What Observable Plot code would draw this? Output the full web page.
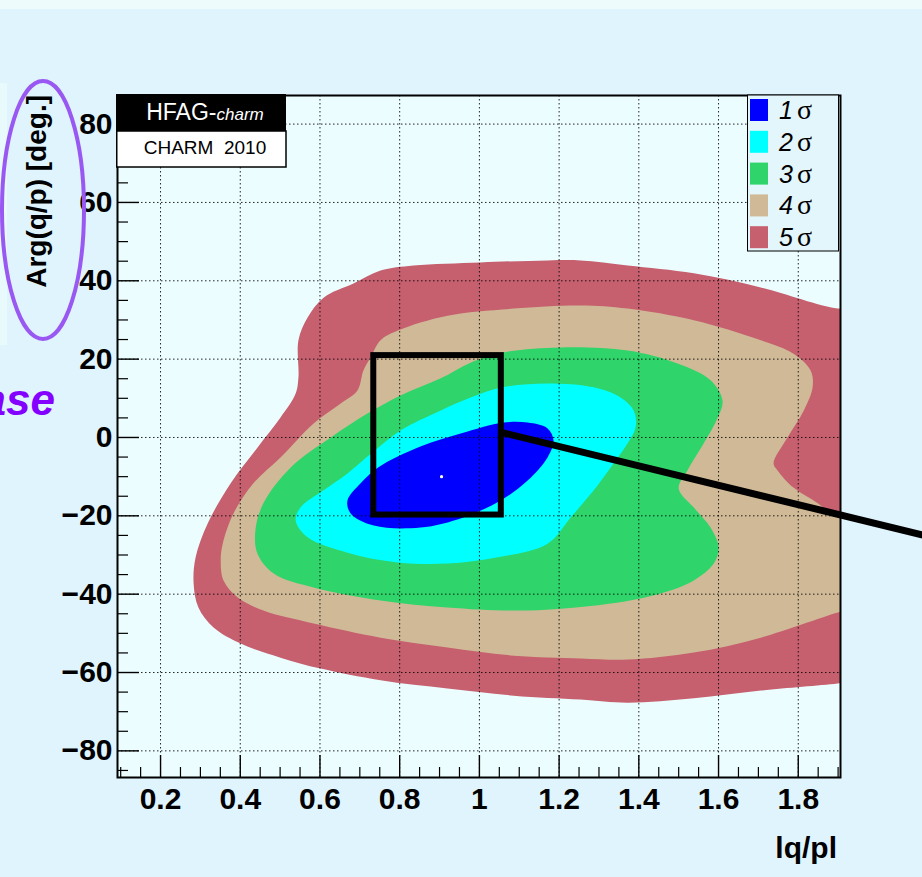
<!DOCTYPE html>
<html>
<head>
<meta charset="utf-8">
<script src="https://cdn.jsdelivr.net/npm/d3@7"></script>
<script src="https://cdn.jsdelivr.net/npm/@observablehq/plot@0.6"></script>
<style>
  html, body { margin: 0; padding: 0; background: #dff4fd; }
  #chart { width: 922px; height: 877px; position: relative; overflow: hidden; }
  #chart svg { display: block; }
</style>
</head>
<body>
<div id="chart"></div>
<script>
// Confidence levels and their fill colours
const levels = ["1", "2", "3", "4", "5"];
const levelColors = ["#0000ff", "#00ffff", "#2fd46a", "#d0b996", "#c65f6e"];

// Axis ticks
const xTickValues = [0.2, 0.4, 0.6, 0.8, 1, 1.2, 1.4, 1.6, 1.8];
const yTickValues = [-80, -60, -40, -20, 0, 20, 40, 60, 80];

// Contour outlines: [|q/p|, Arg(q/p) in degrees]
const contour5 = [
  [1.254, 45.2], [1.171, 45.2], [1.003, 44.7], [0.835, 43.9], [0.752, 42.6], [0.684, 39.3],
  [0.609, 35.7], [0.569, 30.6], [0.546, 24.8], [0.546, 15.3], [0.539, 11.2], [0.501, 5.1],
  [0.443, -2.6], [0.376, -11.7], [0.318, -22.0], [0.288, -30.6], [0.283, -37.3], [0.295, -43.4],
  [0.333, -48.5], [0.401, -52.6], [0.501, -56.2], [0.602, -59.0], [0.752, -62.0], [0.920, -64.1],
  [1.086, -65.9], [1.254, -66.9], [1.372, -67.7], [1.538, -66.6], [1.706, -64.6], [1.899, -62.8],
  [1.96, -62.0], [1.96, 33.0], [1.899, 32.9], [1.706, 38.3], [1.538, 41.9], [1.372, 43.9]
];
const contour4 = [
  [1.254, 33.7], [1.086, 32.9], [0.920, 31.1], [0.795, 27.3], [0.752, 24.8], [0.727, 20.4],
  [0.709, 17.1], [0.694, 12.0], [0.652, 8.7], [0.584, 3.6], [0.501, -5.1], [0.433, -11.7],
  [0.383, -19.4], [0.356, -27.1], [0.351, -31.4], [0.358, -36.5], [0.393, -40.8], [0.458, -44.2],
  [0.584, -47.5], [0.752, -51.1], [0.920, -53.6], [1.086, -55.7], [1.254, -56.4], [1.372, -56.7],
  [1.538, -54.9], [1.706, -51.1], [1.899, -44.7], [1.96, -43.0], [1.96, -19.0], [1.899, -20.4],
  [1.849, -16.8], [1.788, -12.8], [1.748, -8.4], [1.738, -6.6], [1.773, 0.0], [1.814, 6.9],
  [1.836, 12.8], [1.831, 17.1], [1.788, 21.4], [1.706, 24.8], [1.538, 29.9], [1.372, 32.9]
];
const contour3 = [
  [1.204, 23.0], [1.372, 22.2], [1.497, 18.9], [1.580, 14.6], [1.610, 9.4], [1.598, 5.1],
  [1.563, -1.5], [1.522, -8.4], [1.500, -13.0], [1.538, -17.9], [1.580, -23.0], [1.600, -28.1],
  [1.588, -32.2], [1.538, -36.5], [1.455, -39.8], [1.329, -42.4], [1.204, -43.7], [1.086, -44.2],
  [0.920, -43.4], [0.752, -41.6], [0.584, -38.3], [0.484, -34.7], [0.443, -29.6], [0.438, -23.7],
  [0.458, -16.8], [0.526, -7.7], [0.627, 0.0], [0.719, 6.1], [0.802, 10.7], [0.903, 15.1],
  [0.978, 19.1], [1.058, 21.7]
];
const contour2 = [
  [1.171, 13.8], [1.287, 12.8], [1.354, 10.2], [1.387, 6.9], [1.392, 2.6], [1.372, -1.5],
  [1.337, -6.6], [1.287, -13.5], [1.229, -20.4], [1.171, -27.1], [1.046, -30.6], [0.920, -32.2],
  [0.795, -31.9], [0.669, -29.4], [0.569, -25.5], [0.539, -21.2], [0.551, -17.9], [0.609, -13.5],
  [0.669, -9.2], [0.732, -3.8], [0.802, 1.8], [0.903, 6.9], [0.978, 10.2], [1.058, 12.8]
];
const contour1 = [
  [1.121, 3.8], [1.171, 2.3], [1.186, -0.8], [1.171, -5.1], [1.121, -11.0], [1.053, -16.1],
  [0.960, -20.4], [0.852, -23.0], [0.735, -22.5], [0.677, -19.4], [0.669, -16.1], [0.702, -11.7],
  [0.745, -7.7], [0.852, -2.3], [0.953, 1.0], [1.061, 3.8]
];

// Best-fit point, zoomed region and its pointer
const bestFit = [[0.905, -10.0]];
const zoomBox = [[0.735, -19.8, 1.055, 20.9]];
const zoomPointer = [[1.055, 1.3, 2.25, -28.3]];

const W = 922, H = 877;
const mL = 117, mR = 82, mT = 95, mB = 100;
const fw = W - mL - mR, fh = H - mT - mB;
const font = "'Liberation Sans', Arial, Helvetica, sans-serif";

const xMinor = d3.range(0.1, 1.91, 0.05).map(v => +v.toFixed(2))
  .filter(v => !xTickValues.some(t => Math.abs(t - v) < 1e-6));
const yMinor = d3.range(-85, 86, 5).filter(v => v % 20 !== 0);

const minus = d => (d < 0 ? "\u2212" + Math.abs(d) : String(d));
const region = (pts, color) =>
  Plot.line(pts, {x: d => d[0], y: d => d[1], curve: "catmull-rom-closed", fill: color, stroke: "none", clip: true});

const chart = Plot.plot({
  width: W, height: H,
  marginLeft: mL, marginRight: mR, marginTop: mT, marginBottom: mB,
  style: {background: "#dff4fd", fontFamily: font, color: "black"},
  x: {domain: [0.092, 1.906]},
  y: {domain: [-86.8, 87.3]},
  marks: [
    Plot.frame({fill: "#ebfdfe", stroke: null}),
    region(contour5, levelColors[4]),
    region(contour4, levelColors[3]),
    region(contour3, levelColors[2]),
    region(contour2, levelColors[1]),
    region(contour1, levelColors[0]),
    Plot.gridX(xTickValues, {stroke: "black", strokeOpacity: 0.85, strokeDasharray: "1.5,2.5"}),
    Plot.gridY(yTickValues, {stroke: "black", strokeOpacity: 0.85, strokeDasharray: "1.5,2.5"}),
    Plot.ruleX(xMinor, {insetTop: fh - 10, stroke: "black", strokeWidth: 1.2}),
    Plot.ruleX(xTickValues, {insetTop: fh - 22, stroke: "black", strokeWidth: 1.4}),
    Plot.ruleY(yMinor, {insetRight: fw - 11, stroke: "black", strokeWidth: 1.2}),
    Plot.ruleY(yTickValues, {insetRight: fw - 22, stroke: "black", strokeWidth: 1.4}),
    Plot.axisX(xTickValues, {tickSize: 0, tickPadding: 10, fontSize: 30, fontWeight: "bold", tickFormat: minus, label: null}),
    Plot.axisY(yTickValues, {tickSize: 0, tickPadding: 5, fontSize: 30, fontWeight: "bold", tickFormat: minus, label: null}),
    Plot.frame({stroke: "black", strokeWidth: 2}),
    Plot.rect(zoomBox, {x1: d => d[0], y1: d => d[1], x2: d => d[2], y2: d => d[3], fill: "none", stroke: "black", strokeWidth: 6}),
    Plot.link(zoomPointer, {x1: d => d[0], y1: d => d[1], x2: d => d[2], y2: d => d[3], stroke: "black", strokeWidth: 7}),
    Plot.dot(bestFit, {x: d => d[0], y: d => d[1], r: 1.6, fill: "white", stroke: null})
  ]
});

document.getElementById("chart").appendChild(chart);
const svg = d3.select(chart);

// pale page strips behind everything
svg.insert("rect", ":first-child").attr("x", 0).attr("y", 83).attr("width", 7).attr("height", 262).attr("fill", "#e9fafd");
svg.insert("rect", ":first-child").attr("x", 0).attr("y", 0).attr("width", W).attr("height", 9).attr("fill", "#eefbfc");

// HFAG label box
const hb = svg.append("g").attr("font-family", font);
hb.append("rect").attr("x", 116).attr("y", 94).attr("width", 170).attr("height", 37).attr("fill", "black");
hb.append("rect").attr("x", 116.75).attr("y", 131).attr("width", 169.25).attr("height", 36)
  .attr("fill", "white").attr("stroke", "black").attr("stroke-width", 1.5);
const ht = hb.append("text").attr("x", 205).attr("y", 120).attr("text-anchor", "middle")
  .attr("fill", "white").attr("font-size", 23);
ht.append("tspan").text("HFAG-");
ht.append("tspan").attr("font-style", "italic").attr("font-size", 17).text("charm");
hb.append("text").attr("x", 205).attr("y", 154).attr("text-anchor", "middle")
  .attr("font-size", 19).text("CHARM\u00a0 2010");

// Legend
const lg = svg.append("g").attr("font-family", font).attr("text-anchor", "start");
lg.append("rect").attr("x", 747.5).attr("y", 95).attr("width", 91).attr("height", 156)
  .attr("fill", "#e3f6fc").attr("stroke", "black").attr("stroke-width", 1);
levels.forEach((lab, i) => {
  const cy = 110 + i * 31.8;
  lg.append("rect").attr("x", 750).attr("y", cy - 11).attr("width", 18).attr("height", 22).attr("fill", levelColors[i]);
  const t = lg.append("text").attr("y", cy + 9).attr("font-size", 25);
  t.append("tspan").attr("x", 779).attr("font-style", "italic").text(lab);
  t.append("tspan").attr("x", 797).attr("font-size", 28)
    .attr("font-family", "'Liberation Serif', 'DejaVu Serif', serif").text("\u03c3");
});

// Axis titles
svg.append("text").attr("transform", "translate(46,95) rotate(-90)").attr("text-anchor", "end")
  .attr("font-family", font).attr("font-weight", "bold").attr("font-size", 28).text("Arg(q/p) [deg.]");
svg.append("text").attr("x", 837).attr("y", 858).attr("text-anchor", "end")
  .attr("font-family", font).attr("font-weight", "bold").attr("font-size", 30).text("lq/pl");

// Highlight around the vertical title and slide heading fragment
svg.append("ellipse").attr("cx", 43).attr("cy", 210).attr("rx", 41).attr("ry", 129)
  .attr("fill", "none").attr("stroke", "#9a58f2").attr("stroke-width", 4);
svg.append("text").attr("x", 55).attr("y", 415).attr("text-anchor", "end")
  .attr("font-family", font).attr("font-weight", "bold").attr("font-style", "italic")
  .attr("font-size", 44).attr("fill", "#8400ff").text("Phase");
</script>
</body>
</html>
